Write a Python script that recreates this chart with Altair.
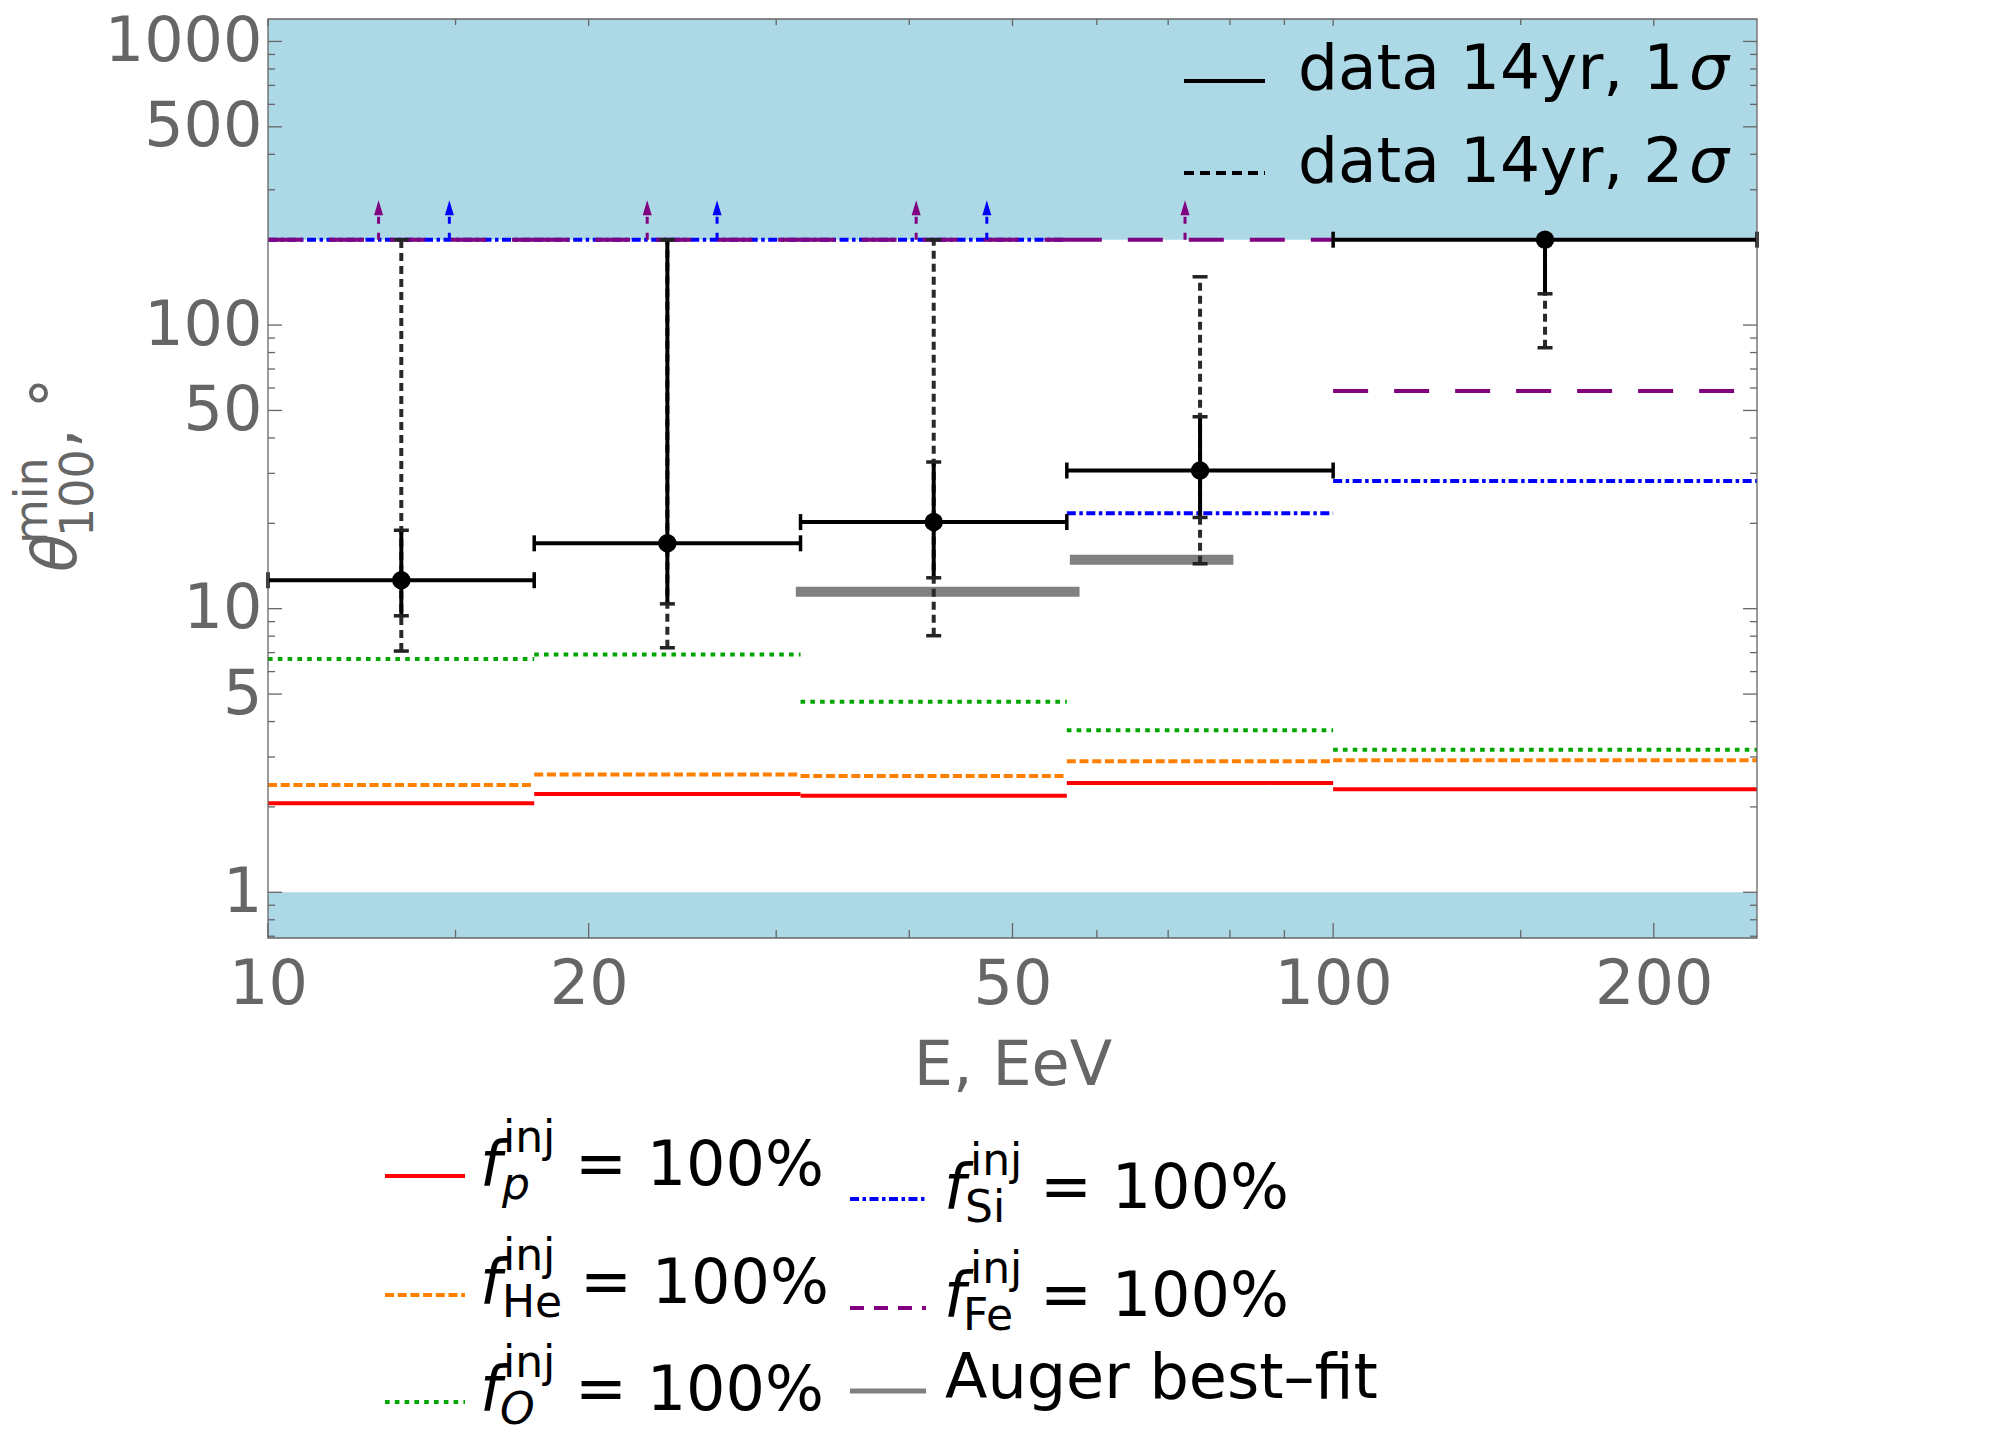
import altair as alt
import pandas as pd

FONT = "DejaVu Sans"
GRAY = "#666666"

# ---------------- data ----------------
bin_lo = [10, 17.78, 31.62, 56.23, 100]
bin_hi = [17.78, 31.62, 56.23, 100, 250]

theta_p = [2.06, 2.22, 2.19, 2.43, 2.31]
theta_he = [2.39, 2.60, 2.57, 2.90, 2.92]
theta_o = [6.64, 6.90, 4.70, 3.73, 3.18]
theta_si = [200, 200, 200, 21.7, 28.2]
theta_fe = [200, 200, 200, 200, 58.5]

# lower-limit arrows (series sitting at the 200 ceiling)
fe_arrow_E = [12.7, 22.7, 40.6, 72.6]
si_arrow_E = [14.8, 26.4, 47.3]
arrow_from, arrow_to, arrow_head = 200, 244, 259

# data 14yr
data_E = [13.34, 23.71, 42.17, 75.0, 158.1]
data_theta = [12.6, 17.0, 20.2, 30.7, 200]
s1_lo = [9.44, 10.4, 12.85, 20.97, 128.9]
s1_hi = [18.9, 200, 32.9, 47.5, 200]
s2_lo = [7.09, 7.28, 8.03, 14.4, 83.2]
s2_hi = [200, 200, 200, 148, 200]

# Auger best-fit
auger_lo = [31.3, 56.6]
auger_hi = [57.8, 80.6]
auger_theta = [11.47, 14.87]

# excluded regions
band_bottom = [200, 0.69]
band_top = [1200, 1]

x_domain = [10, 250]
y_domain = [0.69, 1200]
x_major = [10, 20, 50, 100, 200]
x_minor = [15, 30, 40, 60, 70, 80, 90, 150]
y_major = [1, 5, 10, 50, 100, 500, 1000]
y_minor = [0.7, 0.8, 0.9, 2, 3, 4, 6, 7, 8, 9, 20, 30, 40, 60, 70, 80, 90,
           200, 300, 400, 600, 700, 800, 900]

series_names = ["p", "He", "O", "Si", "Fe"]
series_vals = [theta_p, theta_he, theta_o, theta_si, theta_fe]
series_colors = ["#ff0000", "#ff8000", "#00a600", "#0000ff", "#800080"]
series_dash = [[1, 0], [9, 3.7], [4.6, 5.2], [9, 3.5, 3.5, 3.5], [35, 26]]
legend_dash = [[1, 0], [9, 3.7], [4.6, 5.2], [9, 3.5, 3.5, 3.5], [14, 10]]

W, H = 1489, 919
X0, Y0 = 268, 19  # picture position of the plot origin (for text layout)

xs = alt.Scale(type="log", domain=x_domain, nice=False)
ys = alt.Scale(type="log", domain=y_domain, nice=False)

x_axis = alt.Axis(values=x_major, format="d", ticks=False, domain=False, grid=False,
                  labelFontSize=62, labelColor=GRAY, labelPadding=16, labelFlush=False,
                  labelOverlap=False, title="E, EeV", titleFontSize=62, titleColor=GRAY,
                  titleFontWeight="normal", titlePadding=20)
y_axis = alt.Axis(values=y_major, format="d", ticks=False, domain=False, grid=False,
                  labelFontSize=62, labelColor=GRAY, labelPadding=6, labelFlush=False,
                  labelOverlap=False, title=None)


def X(field):
    return alt.X(field, scale=xs, axis=x_axis)


def Y(field):
    return alt.Y(field, scale=ys, axis=y_axis)


layers = []

# bands
band_df = pd.DataFrame({"x1": [x_domain[0]] * 2, "x2": [x_domain[1]] * 2,
                        "y1": band_bottom, "y2": band_top})
layers.append(alt.Chart(band_df).mark_rect(color="#add8e6").encode(
    x=X("x1:Q"), x2="x2", y=Y("y1:Q"), y2="y2"))


# frame ticks (inward)
def yticks(vals, length, side):
    d = pd.DataFrame({"v": vals})
    xa, xb = (0, length) if side == "left" else (W - length, W)
    return alt.Chart(d).mark_rule(color=GRAY, strokeWidth=1.3).encode(
        y=Y("v:Q"), x=alt.value(xa), x2=alt.value(xb))


def xticks(vals, length, side):
    d = pd.DataFrame({"v": vals})
    ya, yb = (H - length, H) if side == "bottom" else (0, length)
    return alt.Chart(d).mark_rule(color=GRAY, strokeWidth=1.3).encode(
        x=X("v:Q"), y=alt.value(ya), y2=alt.value(yb))


layers += [yticks(y_major, 14, "left"), yticks(y_minor, 7, "left"),
           yticks(y_major, 14, "right"), yticks(y_minor, 7, "right"),
           xticks(x_major, 15, "bottom"), xticks(x_minor, 8, "bottom"),
           xticks(x_major, 7, "top"), xticks(x_minor, 6, "top")]

# Auger best-fit
aug_df = pd.DataFrame({"lo": auger_lo, "hi": auger_hi, "v": auger_theta})
layers.append(alt.Chart(aug_df).mark_rule(color="#808080", strokeWidth=10, strokeCap="butt").encode(
    x=X("lo:Q"), x2="hi", y=Y("v:Q")))

# composition step lines
rows = []
for name, vals in zip(series_names, series_vals):
    for lo, hi, v in zip(bin_lo, bin_hi, vals):
        rows.append({"s": name, "lo": lo, "hi": hi, "v": v})
ser_df = pd.DataFrame(rows)
layers.append(alt.Chart(ser_df).mark_rule(strokeWidth=4, strokeCap="butt").encode(
    x=X("lo:Q"), x2="hi", y=Y("v:Q"),
    color=alt.Color("s:N", scale=alt.Scale(domain=series_names, range=series_colors), legend=None),
    strokeDash=alt.StrokeDash("s:N", scale=alt.Scale(domain=series_names, range=series_dash), legend=None)))

# arrows
n_arr = len(fe_arrow_E) + len(si_arrow_E)
arr_df = pd.DataFrame({"E": fe_arrow_E + si_arrow_E,
                       "s": ["Fe"] * len(fe_arrow_E) + ["Si"] * len(si_arrow_E),
                       "a": [arrow_from] * n_arr, "b": [arrow_to] * n_arr, "h": [arrow_head] * n_arr})
arr_color = alt.Color("s:N", scale=alt.Scale(domain=series_names, range=series_colors), legend=None)
layers.append(alt.Chart(arr_df).mark_rule(strokeWidth=3, strokeDash=[7, 9], strokeCap="butt").encode(
    x=X("E:Q"), y=Y("a:Q"), y2="b", color=arr_color))
layers.append(alt.Chart(arr_df).mark_point(shape="M-0.6,1L0.6,1L0,-1Z", filled=True, opacity=1, size=225).encode(
    x=X("E:Q"), y=Y("h:Q"), color=arr_color))

# data points with error bars
dat_df = pd.DataFrame({"E": data_E, "v": data_theta, "lo": bin_lo, "hi": bin_hi,
                       "s1a": s1_lo, "s1b": s1_hi, "s2a": s2_lo, "s2b": s2_hi})
layers.append(alt.Chart(dat_df).mark_rule(color="#2a2a2a", strokeWidth=4, strokeDash=[8, 5]).encode(
    x=X("E:Q"), y=Y("s2a:Q"), y2="s2b"))
layers.append(alt.Chart(dat_df).mark_rule(color="black", strokeWidth=4).encode(
    x=X("E:Q"), y=Y("s1a:Q"), y2="s1b"))
layers.append(alt.Chart(dat_df).mark_rule(color="black", strokeWidth=4).encode(
    x=X("lo:Q"), x2="hi", y=Y("v:Q")))

hcap_df = pd.DataFrame({"x": bin_lo + bin_hi, "v": data_theta + data_theta})
layers.append(alt.Chart(hcap_df).mark_tick(orient="vertical", color="black", size=16, thickness=3.5, opacity=1).encode(
    x=X("x:Q"), y=Y("v:Q")))
vcap_df = pd.DataFrame({"E": data_E * 4, "v": s1_lo + s1_hi + s2_lo + s2_hi})
layers.append(alt.Chart(vcap_df).mark_tick(orient="horizontal", color="#222222", size=15, thickness=3.5, opacity=1).encode(
    x=X("E:Q"), y=Y("v:Q")))
layers.append(alt.Chart(dat_df).mark_circle(color="black", size=340, opacity=1).encode(
    x=X("E:Q"), y=Y("v:Q")))

# frame
layers.append(alt.Chart(pd.DataFrame({"a": [0]})).mark_rect(filled=False, stroke=GRAY, strokeWidth=1.3).encode(
    x=alt.value(0), x2=alt.value(W), y=alt.value(0), y2=alt.value(H)))


# ---------------- text helpers ----------------
def txt(s, x, y, size=62, color="black", style="normal", angle=0, align="left"):
    return alt.Chart(pd.DataFrame({"t": [s]})).mark_text(
        font=FONT, fontSize=size, fontStyle=style, color=color, align=align,
        baseline="alphabetic", angle=angle).encode(
        text="t:N", x=alt.value(x - X0), y=alt.value(y - Y0))


def sample(x1, x2, y, color, dash, width=4):
    return alt.Chart(pd.DataFrame({"a": [0]})).mark_rule(
        color=color, strokeWidth=width, strokeDash=dash, strokeCap="butt").encode(
        x=alt.value(x1 - X0), x2=alt.value(x2 - X0), y=alt.value(y - Y0))


# y-axis title  θ^min_100, °
layers += [txt("θ", 76, 572, style="italic", color=GRAY, angle=270),
           txt("min", 47, 544, size=46, color=GRAY, angle=270),
           txt("100", 93, 537, size=46, color=GRAY, angle=270),
           txt(", °", 75, 448, color=GRAY, angle=270)]

# in-plot legend (data)
layers += [sample(1184, 1265, 81, "black", [1, 0], 4),
           txt("data 14yr, 1", 1298, 89, size=63), txt("σ", 1689, 89, size=63, style="italic"),
           sample(1184, 1265, 173, "black", [10, 6], 4),
           txt("data 14yr, 2", 1298, 182, size=63), txt("σ", 1689, 182, size=63, style="italic")]

# composition legend
sub_labels = ["p", "He", "O", "Si", "Fe"]
sub_styles = ["italic", "normal", "italic", "normal", "normal"]
leg_rows = [  # sample_x1, sample_x2, sample_y, f_x, sup_x, sub_x, eq_x, baseline
    (385, 465, 1176, 480, 503, 502, 575, 1185),
    (385, 465, 1295, 480, 503, 502, 580, 1303),
    (385, 465, 1402, 480, 503, 500, 575, 1410),
    (850, 926, 1199, 944, 970, 965, 1040, 1208),
    (850, 926, 1308, 944, 970, 963, 1040, 1316),
]
for (sx1, sx2, sy, fx, supx, subx, eqx, base), lab, sty, col, dash in zip(
        leg_rows, sub_labels, sub_styles, series_colors, legend_dash):
    layers += [sample(sx1, sx2, sy, col, dash, 4),
               txt("f", fx, base, style="italic"),
               txt("inj", supx, base - 33, size=44),
               txt(lab, subx, base + 14, size=44, style=sty),
               txt("= 100%", eqx, base)]
layers += [sample(850, 926, 1391, "#808080", [1, 0], 5),
           txt("Auger best–fit", 945, 1398)]

chart = alt.layer(*layers).properties(
    width=W, height=H,
    padding={"left": 260, "top": 11, "right": 244, "bottom": 495},
    autosize=alt.AutoSizeParams(type="none"),
).configure_view(stroke=None).configure_axis(labelFont=FONT, titleFont=FONT)

chart.save("out.html", embed_options={"renderer": "svg", "actions": False})
